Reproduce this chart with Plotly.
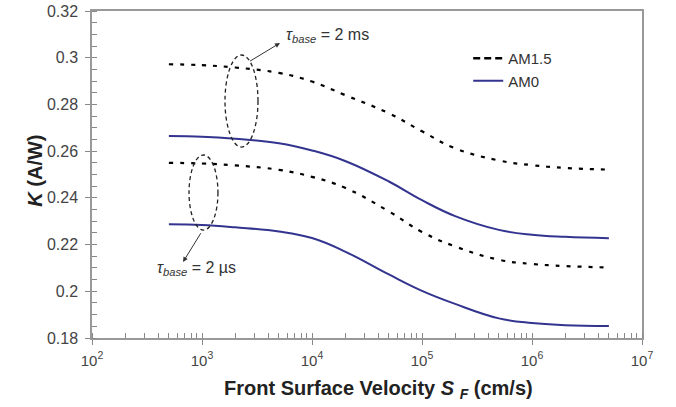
import plotly.graph_objects as go

# ---- data ----
sf = [500, 1e3, 2e3, 5e3, 1e4, 2e4, 5e4, 1e5, 2e5, 5e5, 1e6, 2e6, 5e6]
am15_2ms = [0.2972, 0.2968, 0.2958, 0.2935, 0.2898, 0.2840, 0.2762, 0.2685, 0.2612, 0.2560, 0.2540, 0.2528, 0.2521]
am0_2ms = [0.2665, 0.2662, 0.2653, 0.2634, 0.2603, 0.2558, 0.2470, 0.2390, 0.2322, 0.2263, 0.2242, 0.2233, 0.2227]
am15_2us = [0.2550, 0.2547, 0.2539, 0.2520, 0.2490, 0.2443, 0.2342, 0.2254, 0.2192, 0.2135, 0.2117, 0.2108, 0.2102]
am0_2us = [0.2287, 0.2284, 0.2274, 0.2256, 0.2228, 0.2170, 0.2072, 0.2002, 0.1946, 0.1884, 0.1864, 0.1855, 0.1851]

y_ticks = [0.18, 0.20, 0.22, 0.24, 0.26, 0.28, 0.30, 0.32]
x_tick_exps = [2, 3, 4, 5, 6, 7]

navy = "#33348f"
dot_style = "4px,7px"
FONT = "Liberation Sans"

fig = go.Figure()
for ys in (am15_2ms, am15_2us):
    fig.add_trace(go.Scatter(x=sf, y=ys, mode="lines", showlegend=False,
                             line=dict(color="black", width=2.2, dash=dot_style,
                                       shape="spline", smoothing=1.2)))
for ys in (am0_2ms, am0_2us):
    fig.add_trace(go.Scatter(x=sf, y=ys, mode="lines", showlegend=False,
                             line=dict(color=navy, width=2, shape="spline", smoothing=1.2)))
# legend entries
fig.add_trace(go.Scatter(x=[None], y=[None], mode="lines", name="AM1.5",
                         line=dict(color="black", width=2.5, dash="7px,4px")))
fig.add_trace(go.Scatter(x=[None], y=[None], mode="lines", name="AM0",
                         line=dict(color=navy, width=2)))

# ellipses (paper coordinates)
fig.add_shape(type="circle", xref="paper", yref="paper", x0=0.2418, x1=0.3018, y0=0.584, y1=0.8654,
              line=dict(color="#222", width=1.3, dash="4px,3px"))
fig.add_shape(type="circle", xref="paper", yref="paper", x0=0.1764, x1=0.229, y0=0.330, y1=0.5596,
              line=dict(color="#222", width=1.3, dash="4px,3px"))

# arrows (head at the label end)
fig.add_annotation(x=0.3418, y=0.902, ax=-31.5, ay=19, axref="pixel", ayref="pixel",
                   xref="paper", yref="paper", text="", showarrow=True,
                   arrowhead=2, arrowsize=1, arrowwidth=1, arrowcolor="#333")
fig.add_annotation(x=0.1655, y=0.2324, ax=18.7, ay=-30.3, axref="pixel", ayref="pixel",
                   xref="paper", yref="paper", text="", showarrow=True,
                   arrowhead=2, arrowsize=1, arrowwidth=1, arrowcolor="#333")
fig.add_annotation(x=0.349, y=0.924, xref="paper", yref="paper", xanchor="left", yanchor="middle",
                   text="<i>τ</i><sub><i>base</i></sub> = 2 ms", showarrow=False,
                   font=dict(size=16, color="#333", family=FONT))
fig.add_annotation(x=0.115, y=0.214, xref="paper", yref="paper", xanchor="left", yanchor="middle",
                   text="<i>τ</i><sub><i>base</i></sub> = 2 µs", showarrow=False,
                   font=dict(size=16, color="#333", family=FONT))

# axis titles
fig.add_annotation(x=0.521, y=-0.159, xref="paper", yref="paper", xanchor="center", yanchor="middle",
                   text="<b>Front Surface Velocity <i>S</i> <sub><i>F</i></sub> (cm/s)</b>", showarrow=False,
                   font=dict(size=20, color="#222", family=FONT))
fig.add_annotation(x=-0.104, y=0.511, xref="paper", yref="paper", xanchor="center", yanchor="middle",
                   text="<b><i>K</i> (A/W)</b>", showarrow=False, textangle=-90,
                   font=dict(size=20, color="#222", family=FONT))

fig.update_layout(
    width=676, height=407,
    margin=dict(l=92, r=34, t=11, b=69, autoexpand=False),
    paper_bgcolor="white", plot_bgcolor="white",
    font=dict(family=FONT, color="#333", size=15),
    legend=dict(x=0.684, y=0.905, xanchor="left", yanchor="top",
                bgcolor="rgba(0,0,0,0)", font=dict(size=15, color="#333", family=FONT),
                tracegroupgap=0),
    xaxis=dict(
        type="log", range=[2, 7], automargin=False,
        tickvals=[10 ** e for e in x_tick_exps],
        ticktext=[f"10<sup>{e}</sup>" for e in x_tick_exps],
        ticks="outside", ticklen=5, tickcolor="#888", ticklabelstandoff=3,
        tickfont=dict(size=15, color="#444", family=FONT),
        showline=True, linecolor="#999", linewidth=1.5, mirror=True,
        showgrid=False, zeroline=False,
        minor=dict(ticks="inside", ticklen=5, tickcolor="#888", dtick="D1", showgrid=False),
    ),
    yaxis=dict(
        range=[0.18, 0.32], automargin=False,
        tickvals=y_ticks,
        ticktext=[f"{v:g}" for v in y_ticks],
        ticks="outside", ticklen=5, tickcolor="#888", ticklabelstandoff=4,
        tickfont=dict(size=16, color="#444", family=FONT),
        showline=True, linecolor="#999", linewidth=1.5, mirror=True,
        showgrid=False, zeroline=False,
        minor=dict(ticks="inside", ticklen=5, tickcolor="#888", dtick=0.005, showgrid=False),
    ),
)

fig.write_html("out.html", config={"displayModeBar": False},
               post_script="document.body.style.margin='0px';")
